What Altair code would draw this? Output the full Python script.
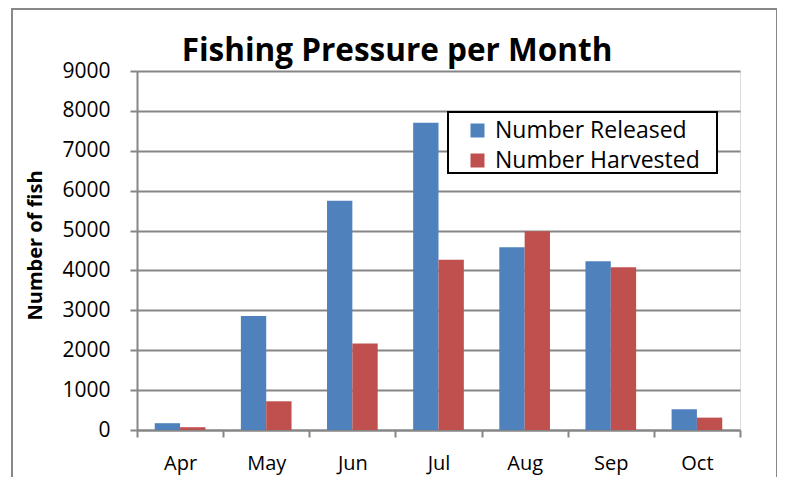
import altair as alt
import pandas as pd

months = ["Apr", "May", "Jun", "Jul", "Aug", "Sep", "Oct"]
released = [170, 2860, 5750, 7700, 4580, 4230, 520]
harvested = [70, 720, 2170, 4270, 4980, 4080, 310]
series_names = ["Number Released", "Number Harvested"]
series_colors = ["#4F81BD", "#C0504D"]
y_ticks = [0, 1000, 2000, 3000, 4000, 5000, 6000, 7000, 8000, 9000]
chart_title = "Fishing Pressure per Month"

rows = []
for m, r, h in zip(months, released, harvested):
    rows.append({"month": m, "series": series_names[0], "value": r})
    rows.append({"month": m, "series": series_names[1], "value": h})
df = pd.DataFrame(rows)

FONT = "Open Sans"
GREY = "#868686"

bars = alt.Chart(df).mark_bar().encode(
    x=alt.X("month:N", sort=months,
            scale=alt.Scale(paddingInner=0, paddingOuter=0),
            axis=alt.Axis(title=None, labelAngle=0, tickBand="extent",
                          tickSize=7, tickColor=GREY, tickWidth=2,
                          domainColor=GREY, domainWidth=2,
                          labelFont=FONT, labelFontSize=20, labelColor="#000",
                          labelPadding=16, grid=False)),
    xOffset=alt.XOffset("series:N", sort=series_names,
                        scale=alt.Scale(paddingOuter=0.7, paddingInner=0)),
    y=alt.Y("value:Q", scale=alt.Scale(domain=[0, 9000], nice=False),
            axis=alt.Axis(title="Number of fish", values=y_ticks, format="d",
                          tickSize=7, tickColor=GREY, tickWidth=2,
                          domainColor=GREY, domainWidth=2,
                          gridColor=GREY, gridWidth=2,
                          labelFont=FONT, labelFontSize=21, labelColor="#000",
                          labelPadding=20,
                          titleFont=FONT, titleFontSize=20, titleFontWeight="bold",
                          titleColor="#000", titleAngle=270,
                          titleX=-102, titleY=174, titleAlign="center",
                          titleBaseline="middle")),
    color=alt.Color("series:N", sort=series_names,
                    scale=alt.Scale(domain=series_names, range=series_colors),
                    legend=alt.Legend(title=None, orient="none",
                                      legendX=329, legendY=48, padding=0,
                                      symbolType="square", symbolSize=196,
                                      symbolStrokeWidth=0, labelOffset=6,
                                      labelFont=FONT, labelFontSize=23,
                                      labelColor="#000", rowPadding=6,
                                      labelLimit=400)),
)

one = pd.DataFrame({"a": [0]})

legend_box = alt.Chart(one).mark_rect(fill="white", stroke="#000", strokeWidth=2).encode(
    x=alt.value(311), x2=alt.value(580), y=alt.value(41), y2=alt.value(102)
)

frame = alt.Chart(one).mark_rect(fillOpacity=0, stroke="#888888", strokeWidth=2).encode(
    x=alt.value(-125), x2=alt.value(640), y=alt.value(-62), y2=alt.value(600)
)

title = alt.Chart(one).mark_text(
    text=chart_title, font=FONT, fontSize=31.5, fontWeight="bold", color="#000",
    align="center", baseline="alphabetic"
).encode(x=alt.value(260), y=alt.value(-10))

chart = alt.layer(bars, legend_box, frame, title).properties(
    width=603, height=359,
    autosize=alt.AutoSizeParams(type="none"),
    padding={"left": 129, "top": 63, "right": 37, "bottom": 47},
).configure_view(stroke=None).configure(background="white")

chart.save("out.html", embed_options={"renderer": "svg", "actions": False})
